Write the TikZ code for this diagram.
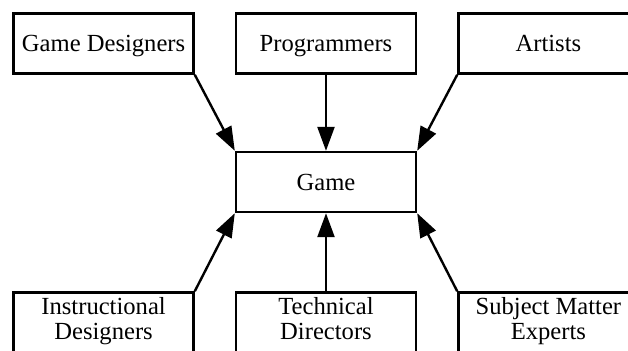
\documentclass[tikz,border=0pt]{standalone}
\usepackage{fontspec}
\setmainfont{Liberation Serif}
\usetikzlibrary{arrows.meta, positioning}

\begin{document}
\begin{tikzpicture}[node distance=38pt and 20pt,
    box/.style={rectangle, draw=black, line width=1.2pt, minimum width=90pt, minimum height=30pt, align=center, inner sep=2pt, font=\fontsize{12.3pt}{12.5pt}\selectfont, execute at begin node=\rule{0pt}{11.5pt}, execute at end node=\strut},
    onebox/.style={box, text height=10.8pt, text depth=2.8pt},
    link/.style={-{Triangle[length=12pt, width=8.5pt]}, line width=1.2pt}]
    \useasboundingbox (-163pt,-84pt) rectangle (151pt,91pt);
    % Nodes
    \node (game) [onebox] at (0,0) {Game};
    \node (programmers) [onebox, above=of game] {Programmers};
    \node (designers) [onebox, left=of programmers] {Game Designers};
    \node (artists) [onebox, right=of programmers] {Artists};
    \node (techdirs) [box, below=39pt of game] {Technical\\Directors};
    \node (instructional) [box, left=of techdirs] {Instructional\\Designers};
    \node (experts) [box, right=of techdirs] {Subject Matter\\Experts};

    % Arrows
    \draw[link] (designers.south east) -- (game.north west);
    \draw[link] (programmers) -- (game);
    \draw[link] (artists.south west) -- (game.north east);
    \draw[link] (instructional.north east) -- (game.south west);
    \draw[link] (techdirs) -- (game);
    \draw[link] (experts.north west) -- (game.south east);
\end{tikzpicture}
\end{document}
